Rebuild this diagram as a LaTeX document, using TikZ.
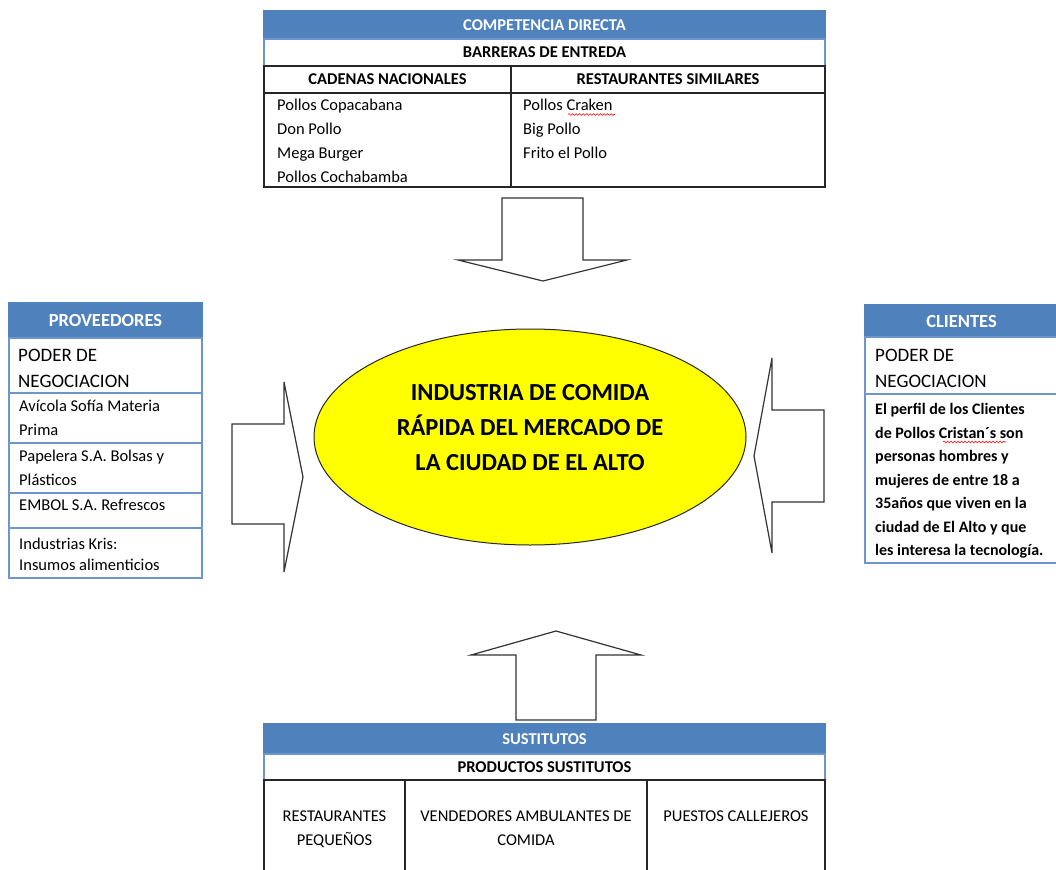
\documentclass[tikz,border=0pt]{standalone}
\usepackage{fontspec}
\setmainfont{Carlito}
\usetikzlibrary{shapes.geometric,decorations.pathmorphing}
\definecolor{hblue}{RGB}{79,129,189}
\definecolor{lblue}{RGB}{110,150,205}
\definecolor{ylw}{RGB}{255,255,0}
\begin{document}
\begin{tikzpicture}[x=1pt,y=-1pt,
  hdrbox/.style={fill=hblue,draw=hblue,line width=1.2pt,inner sep=0pt,text=white,font=\fontsize{16.5}{20}\selectfont\bfseries},
  bighdr/.style={hdrbox,font=\fontsize{18.5}{22}\selectfont\bfseries},
  bluebox/.style={draw=lblue,line width=1.2pt,inner sep=0pt},
  blackbox/.style={draw=black!85,line width=1.3pt,inner sep=0pt},
  subtxt/.style={font=\fontsize{16.5}{20}\selectfont\bfseries},
  captxt/.style={font=\fontsize{16.5}{24}\selectfont,inner sep=0pt,anchor=base,align=center},
  bodytxt/.style={font=\fontsize{16.5}{24}\selectfont,inner sep=0pt,anchor=base west,align=left},
  podertxt/.style={font=\fontsize{19}{26}\selectfont,inner sep=0pt,anchor=base west,align=left},
  boldtxt/.style={font=\fontsize{16}{23.5}\selectfont\bfseries,inner sep=0pt,anchor=base west,align=left},
  blockarrow/.style={draw=black!80,line width=1.2pt,fill=white,line join=miter},
  spell/.style={draw=red,line width=0.6pt,decorate,decoration={snake,amplitude=0.9pt,segment length=3.5pt}},
]
\useasboundingbox (0,0) rectangle (1056,869);

% ---------- top table ----------
\node[hdrbox,minimum width=561,minimum height=28] (cdh) at (544.5,25) {COMPETENCIA DIRECTA};
\node[bluebox,subtxt,minimum width=561,minimum height=27] (barr) at (544.5,52.5) {BARRERAS DE ENTREDA};
\node[blackbox,subtxt,minimum width=247,minimum height=27] (cadn) at (387.5,79.5) {CADENAS NACIONALES};
\node[blackbox,subtxt,minimum width=314,minimum height=27] (rsim) at (668,79.5) {RESTAURANTES SIMILARES};
\node[blackbox,minimum width=247,minimum height=94] (cadc) at (387.5,140) {};
\node[blackbox,minimum width=314,minimum height=94] (rsic) at (668,140) {};
\node[bodytxt] (cadt) at (277,182.5) {Pollos Copacabana\\Don Pollo\\Mega Burger\\Pollos Cochabamba};
\node[bodytxt] (rsit) at (523,158.5) {Pollos Craken\\Big Pollo\\Frito el Pollo};
\draw[spell] (568,114.5) -- (615,114.5);

% top arrow
\draw[blockarrow] (502,198) -- (583,198) -- (583,260) -- (627,260) -- (543,281) -- (458,260) -- (502,260) -- cycle;

% ---------- center ellipse ----------
\node[draw=black!85,line width=1pt,ellipse,fill=ylw,minimum width=432,minimum height=216,inner sep=0pt] (ind) at (530,437) {};
\node[font=\fontsize{24.5}{35}\selectfont\bfseries,inner sep=0pt,anchor=base,align=center] (indt) at (530,470)
  {INDUSTRIA DE COMIDA\\RÁPIDA DEL MERCADO DE\\LA CIUDAD DE EL ALTO};

% ---------- left box ----------
\node[bighdr,minimum width=193,minimum height=35] (provh) at (105.5,320.5) {PROVEEDORES};
\node[bluebox,minimum width=193,minimum height=55] (prov1) at (105.5,365.5) {};
\node[bluebox,minimum width=193,minimum height=50] (prov2) at (105.5,418) {};
\node[bluebox,minimum width=193,minimum height=50] (prov3) at (105.5,468) {};
\node[bluebox,minimum width=193,minimum height=35] (prov4) at (105.5,510.5) {};
\node[bluebox,minimum width=193,minimum height=50] (prov5) at (105.5,553) {};
\node[podertxt] (provp) at (18,387) {PODER DE\\NEGOCIACION};
\node[bodytxt,font=\fontsize{16.5}{23.5}\selectfont] (prov2t) at (19,435) {Avícola Sofía Materia\\Prima};
\node[bodytxt,font=\fontsize{16.5}{23.5}\selectfont] (prov3t) at (19,485) {Papelera S.A. Bolsas y\\Plásticos};
\node[bodytxt] (prov4t) at (19,510.5) {EMBOL S.A. Refrescos};
\node[bodytxt,font=\fontsize{16.5}{21}\selectfont] (prov5t) at (19,570.5) {Industrias Kris:\\Insumos alimenticios};

% left arrow
\draw[blockarrow] (232,424) -- (284,424) -- (284,382) -- (303,477) -- (284,572) -- (284,524) -- (232,524) -- cycle;

% ---------- right box ----------
\node[bighdr,minimum width=193,minimum height=32] (clih) at (961.5,321) {CLIENTES};
\node[bluebox,minimum width=193,minimum height=57] (cli1) at (961.5,365.5) {};
\node[bluebox,minimum width=193,minimum height=169] (cli2) at (961.5,478.5) {};
\node[podertxt] (clip) at (875,387) {PODER DE\\NEGOCIACION};
\node[boldtxt] (clit) at (875,555.5) {El perfil de los Clientes\\de Pollos Cristan´s son\\personas hombres y\\mujeres de entre 18 a\\35años que viven en la\\ciudad de El Alto y que\\les interesa la tecnología.};
\draw[spell] (943,442) -- (1006,442);

% right arrow
\draw[blockarrow] (824,410) -- (772,410) -- (772,358) -- (754,456) -- (772,553) -- (772,502) -- (824,502) -- cycle;

% bottom arrow
\draw[blockarrow] (516,720) -- (596,720) -- (596,655) -- (641,655) -- (556,631) -- (471,655) -- (516,655) -- cycle;

% ---------- bottom table ----------
\node[hdrbox,minimum width=561,minimum height=30] (susth) at (544.5,739) {SUSTITUTOS};
\node[bluebox,subtxt,minimum width=561,minimum height=26] (prods) at (544.5,767) {PRODUCTOS SUSTITUTOS};
\node[blackbox,minimum width=141,minimum height=100] (sub1) at (334.5,830) {};
\node[blackbox,minimum width=242,minimum height=100] (sub2) at (526,830) {};
\node[blackbox,minimum width=178,minimum height=100] (sub3) at (736,830) {};
\node[captxt] (sub1t) at (334.5,845.5) {RESTAURANTES\\PEQUEÑOS};
\node[captxt] (sub2t) at (526,845.5) {VENDEDORES AMBULANTES DE\\COMIDA};
\node[captxt] (sub3t) at (736,821.5) {PUESTOS CALLEJEROS};
\end{tikzpicture}
\end{document}
